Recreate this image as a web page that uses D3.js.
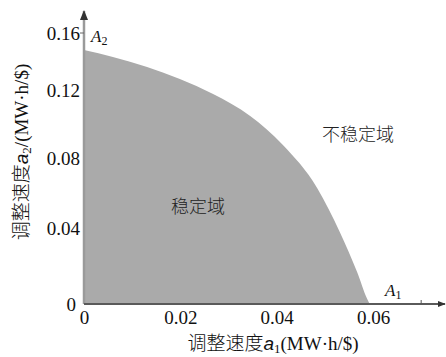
<!DOCTYPE html>
<html>
<head>
<meta charset="utf-8">
<script src="https://cdn.jsdelivr.net/npm/d3@7"></script>
<style>
  html, body { margin: 0; padding: 0; background: #fff; }
  svg { display: block; }
</style>
</head>
<body>
<svg id="chart" width="446" height="357"></svg>
<script>
// Stability boundary between the two adjustment speeds (MW·h/$)
const a1Boundary = [0, 0.0060, 0.0131, 0.0199, 0.0268, 0.0345, 0.0413, 0.0484, 0.0531, 0.0567, 0.0588, 0.0593];
const a2Boundary = [0.1481, 0.1432, 0.1361, 0.1277, 0.1176, 0.1047, 0.0876, 0.0629, 0.0379, 0.0168, 0.0026, 0];

// Axis ticks
const xTickValues = [0, 0.02, 0.04, 0.06];
const xTickLabels = ["0", "0.02", "0.04", "0.06"];
const yTickValues = [0, 0.04, 0.08, 0.12, 0.16];
const yTickLabels = ["0", "0.04", "0.08", "0.12", "0.16"];

const SERIF = '"Liberation Serif", "Times New Roman", "DejaVu Serif", serif';
const CJK = '"Noto Sans CJK SC", sans-serif';
const SANS = '"Liberation Sans", Arial, sans-serif';

const svg = d3.select("#chart");

const x = d3.scaleLinear().domain([0, 0.06]).range([84, 373]);
const y = d3.scaleLinear()
  .domain([0, 0.04, 0.08, 0.12, 0.16])
  .range([304, 228, 158, 90, 33]);

// Stable region (area under the boundary)
const pts = a1Boundary.map((v, i) => [v, a2Boundary[i]]);
const area = d3.area()
  .x(d => x(d[0]))
  .y0(y(0))
  .y1(d => y(d[1]))
  .curve(d3.curveMonotoneX);
svg.append("path")
  .datum(pts)
  .attr("d", area)
  .attr("fill", "#aaaaaa");

// Arrowed axes
const defs = svg.append("defs");
defs.append("marker")
  .attr("id", "arrow")
  .attr("viewBox", "0 0 10 10")
  .attr("refX", 9).attr("refY", 5)
  .attr("markerWidth", 4).attr("markerHeight", 4)
  .attr("orient", "auto")
  .append("path").attr("d", "M0,1 L10,5 L0,9 Z").attr("fill", "#333");

svg.append("line")
  .attr("x1", x(0)).attr("y1", y(0))
  .attr("x2", x(0)).attr("y2", 11)
  .attr("stroke", "#9a9a9a").attr("stroke-width", 2.5)
  .attr("marker-end", "url(#arrow)");
svg.append("line")
  .attr("x1", x(0)).attr("y1", y(0))
  .attr("x2", 445).attr("y2", y(0))
  .attr("stroke", "#5a5a5a").attr("stroke-width", 2)
  .attr("marker-end", "url(#arrow)");

// Small tick marks
svg.append("line")
  .attr("x1", x(0) - 4).attr("x2", x(0))
  .attr("y1", y(0.16)).attr("y2", y(0.16))
  .attr("stroke", "#666").attr("stroke-width", 1);
svg.append("line")
  .attr("x1", x(0.07)).attr("x2", x(0.07))
  .attr("y1", y(0) - 4).attr("y2", y(0))
  .attr("stroke", "#555").attr("stroke-width", 1);

// Tick labels via axis generators
const xAxis = d3.axisBottom(x)
  .tickValues(xTickValues)
  .tickFormat((d, i) => xTickLabels[i])
  .tickSize(0).tickPadding(7);
const gx = svg.append("g").attr("transform", `translate(0,${y(0)})`).call(xAxis)
  .attr("font-family", null).attr("font-size", null);
gx.select(".domain").remove();
gx.selectAll("text")
  .style("font-family", SERIF)
  .style("font-size", "19px")
  .attr("fill", "#111");

const yAxis = d3.axisLeft(y)
  .tickValues(yTickValues)
  .tickFormat((d, i) => yTickLabels[i])
  .tickSize(0).tickPadding(4);
const gy = svg.append("g").attr("transform", `translate(${x(0)},0)`).call(yAxis)
  .attr("font-family", null).attr("font-size", null);
gy.select(".domain").remove();
gy.selectAll("text")
  .style("font-family", SERIF)
  .style("font-size", "19px")
  .attr("fill", "#111");
gy.selectAll(".tick").filter(d => d === 0).select("text").attr("dx", -4);

// Endpoint labels
function pointLabel(px, py, sub) {
  const t = svg.append("text")
    .attr("x", px).attr("y", py).attr("fill", "#111")
    .style("font-family", SERIF).style("font-size", "17px");
  t.append("tspan").style("font-style", "italic").text("A");
  t.append("tspan").style("font-size", "12px").attr("dy", 3).text(sub);
}
pointLabel(x(0) + 7, 42, "2");
pointLabel(x(0.0625), 296, "1");

// Region labels
svg.append("text")
  .attr("x", 198).attr("y", 205).attr("text-anchor", "middle")
  .attr("dominant-baseline", "central")
  .style("font-family", CJK).style("font-weight", 300).style("font-size", "18px")
  .attr("fill", "#222").text("稳定域");
svg.append("text")
  .attr("x", 358).attr("y", 133).attr("text-anchor", "middle")
  .attr("dominant-baseline", "central")
  .style("font-family", CJK).style("font-weight", 300).style("font-size", "18px")
  .attr("fill", "#222").text("不稳定域");

// Axis titles
function axisTitle(g, sub, slash) {
  const t = g.append("text").attr("text-anchor", "middle").attr("fill", "#111");
  t.append("tspan").style("font-family", CJK).style("font-weight", 300)
    .style("font-size", "19px").text("调整速度");
  t.append("tspan").style("font-family", SANS)
    .style("font-style", "italic").style("font-size", "19px").text("a");
  t.append("tspan").style("font-family", SERIF).style("font-size", "13px")
    .attr("dy", 3).text(sub);
  t.append("tspan").style("font-family", SERIF).style("font-size", "19px")
    .attr("dy", -3).text((slash ? "/" : "") + "(MW·h/$)");
  return t;
}
axisTitle(svg.append("g").attr("transform", "translate(273,350)"), "1", false);
axisTitle(svg.append("g").attr("transform", "translate(28,152) rotate(-90)"), "2", true);
</script>
</body>
</html>
